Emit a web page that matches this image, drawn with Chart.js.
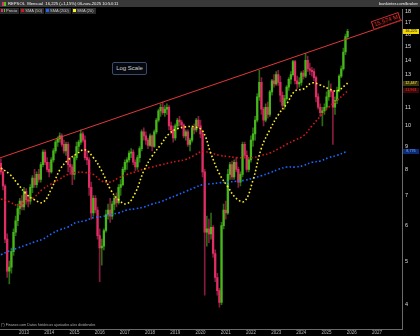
<!DOCTYPE html>
<html lang="es">
<head>
<meta charset="utf-8">
<title>REPSOL Mensual</title>
<script src="https://cdn.jsdelivr.net/npm/chart.js@4.4.1/dist/chart.umd.min.js"></script>
<style>
html, body { margin: 0; padding: 0; background: #000; }
#wrap { position: relative; width: 420px; height: 336px; overflow: hidden; background: #000; font-family: "Liberation Sans", Arial, sans-serif; }
#wrap canvas { position: absolute; left: 0; top: 0; }
.topbar { position: absolute; left: 0; top: 0; width: 420px; height: 7px; background: #383838; color: #f2f2f2; font-size: 4.2px; line-height: 7px; white-space: nowrap; }
.topbar .title { position: absolute; left: 8px; top: 0; }
.topbar .site { position: absolute; right: 2px; top: 0; }
.ico { position: absolute; top: 1.5px; width: 1.5px; height: 4px; }
.legend { position: absolute; left: 0; top: 7.5px; height: 6px; display: flex; gap: 1px; }
.legend .item { background: #2b2b2b; color: #c8c8c8; font-size: 4px; line-height: 6px; padding: 0 2px 0 1px; display: flex; align-items: center; gap: 1px; white-space: nowrap; }
.sw { width: 3px; height: 3px; display: inline-block; }
.logbox { position: absolute; left: 112px; top: 62px; width: 33px; height: 11px; background: #05080f; border: 1px solid #3b4a66; border-radius: 2px; color: #d0d0d0; font-size: 6px; line-height: 11px; text-align: center; }
.footer { position: absolute; left: 1px; top: 323px; color: #b0b0b0; font-size: 3.6px; white-space: nowrap; }
.trendlbl { position: absolute; color: #e23434; border: 1px solid #d32c2c; background: #000; font-size: 6px; line-height: 7px; padding: 0 1px; white-space: nowrap; transform: translate(-50%, -50%) rotate(-18.9deg); }
.tag { position: absolute; left: 403px; width: 16px; height: 5px; font-size: 3.8px; line-height: 5px; text-align: center; }
</style>
</head>
<body>
<div id="wrap">
  <canvas id="repsolChart" width="420" height="336"></canvas>
  <div class="topbar">
    <span class="ico" style="left:2px;background:#e33168"></span>
    <span class="ico" style="left:4px;background:#4fc21c"></span>
    <span class="title">REPSOL &nbsp;Mensual &nbsp;16,225 (+1,15%) 06-nov-2025 10:54:11</span>
    <span class="site">bankinter.com/broker</span>
  </div>
  <div class="legend">
    <span class="item"><span class="sw" style="width:1.5px;background:#e33168"></span><span class="sw" style="width:1.5px;background:#4fc21c"></span>Precio</span>
    <span class="item"><span class="sw" style="background:#d01818"></span>SMA (50)</span>
    <span class="item"><span class="sw" style="background:#1a66ff"></span>SMA (200)</span>
    <span class="item"><span class="sw" style="background:#ffee22"></span>SMA (20)</span>
  </div>
  <div class="logbox">Log Scale</div>
  <div class="footer">(*) Finance.com Datos históricos ajustados a/ex dividendos</div>
  <div class="trendlbl" id="trend-label">15,574 M</div>
  <div class="tag" id="tag-price" style="background:#f2d600;color:#000"></div>
  <div class="tag" id="tag-sma20" style="background:#3a3608;color:#f4e640"></div>
  <div class="tag" id="tag-sma50" style="background:#3c0808;color:#ff3030"></div>
  <div class="tag" id="tag-sma200" style="background:#0b2a78;color:#7fb0ff"></div>
</div>
<script>
// monthly candles, first one is Feb 2012 (months counted from Jan 2012)
const firstMonth = 1;

const opens = [
    8.25, 7.9, 7.35, 5.6, 4.75, 4.85, 5.25, 5.8, 6.15, 6.55,
    6.8, 6.6, 7.15, 6.85, 6.8, 7.3, 7.65, 7.4, 7.8, 7.6,
    8.2, 8.75, 8.3, 8.0, 7.9, 8.4, 8.8, 9.2, 9.35, 9.5,
    9.1, 8.8, 9.1, 8.2, 8.1, 7.8, 8.5, 9.0, 9.2, 9.6,
    9.3, 8.5, 8.4, 7.3, 6.4, 6.9, 6.5, 5.7, 5.35, 5.4,
    5.85, 6.35, 6.5, 6.3, 6.7, 6.9, 6.75, 7.3, 7.4, 8.0,
    8.3, 8.4, 8.7, 8.75, 8.3, 8.1, 8.5, 8.9, 9.7, 9.5,
    9.3, 9.05, 9.5, 9.0, 9.7, 10.3, 10.8, 11.0, 10.7, 10.9,
    11.0, 10.0, 9.8, 9.4, 10.0, 10.3, 10.2, 10.05, 9.5, 9.7,
    9.1, 9.3, 9.9, 9.8, 10.3, 10.0, 9.6, 7.9, 5.8, 5.9,
    5.75, 5.95, 5.2, 4.6, 4.3, 4.05, 6.0, 6.5, 6.4, 7.8,
    8.2, 7.7, 8.3, 8.0, 7.5, 7.8, 9.1, 8.6, 8.0, 8.4,
    9.3, 9.6, 10.3, 11.6, 12.5, 10.9, 10.3, 11.0, 10.6, 11.9,
    12.6, 12.4, 13.0, 12.5, 11.7, 11.1, 11.5, 12.2, 12.7, 13.0,
    13.9, 12.6, 12.4, 12.5, 13.1, 12.9, 14.0, 13.4, 13.3, 13.2,
    12.8, 11.6, 11.0, 10.7, 10.8, 11.0, 11.6, 12.0, 11.9, 11.0,
    11.4, 12.0, 12.9, 13.4, 14.6, 15.8
];
const highs = [
    8.45, 8.0, 7.4, 5.75, 5.0, 5.35, 5.9, 6.3, 6.7, 6.9,
    7.0, 7.3, 7.25, 7.0, 7.4, 7.75, 8.0, 7.9, 8.0, 8.3,
    8.85, 8.85, 8.5, 8.3, 8.5, 8.9, 9.3, 9.45, 9.65, 9.6,
    9.3, 9.2, 9.2, 8.5, 8.2, 8.6, 9.2, 9.3, 9.8, 9.7,
    9.5, 8.8, 8.5, 7.5, 7.0, 7.0, 6.6, 5.9, 5.6, 5.9,
    6.5, 6.7, 6.9, 6.8, 7.0, 7.1, 7.4, 7.6, 8.1, 8.4,
    8.5, 8.8, 8.9, 8.85, 8.4, 8.6, 9.0, 9.8, 9.9, 9.7,
    9.4, 9.6, 9.55, 9.8, 10.4, 10.9, 11.2, 11.3, 11.1, 11.2,
    11.1, 10.2, 10.0, 10.1, 10.4, 10.5, 10.3, 10.1, 9.8, 9.8,
    9.4, 10.0, 10.1, 10.4, 10.5, 10.3, 9.7, 8.0, 6.3, 6.2,
    6.4, 6.0, 5.3, 4.7, 4.35, 6.1, 6.7, 6.8, 8.0, 8.3,
    8.35, 8.4, 8.5, 8.1, 7.9, 9.2, 9.2, 8.8, 8.5, 9.5,
    9.9, 10.5, 11.8, 13.3, 12.8, 11.0, 11.2, 11.3, 12.0, 12.7,
    13.0, 13.2, 13.3, 12.9, 11.9, 11.7, 12.3, 12.8, 13.2, 14.0,
    14.0, 12.9, 12.8, 13.2, 13.3, 14.5, 14.3, 13.8, 13.5, 13.4,
    12.9, 11.8, 11.2, 11.0, 11.2, 11.9, 12.6, 12.4, 12.0, 11.6,
    12.2, 13.0, 13.6, 14.9, 16.0, 16.4
];
const lows = [
    7.8, 7.2, 5.5, 4.6, 4.45, 4.7, 5.15, 5.7, 6.0, 6.35,
    6.5, 6.5, 6.7, 6.6, 6.7, 7.1, 7.3, 7.3, 7.5, 7.5,
    8.1, 8.2, 7.9, 7.7, 7.85, 8.3, 8.7, 9.0, 9.2, 9.0,
    8.7, 8.6, 7.9, 7.8, 7.4, 7.6, 8.4, 8.8, 9.1, 9.2,
    8.4, 8.2, 7.0, 6.2, 6.3, 6.4, 5.6, 4.5, 4.9, 5.3,
    5.8, 6.2, 6.1, 6.2, 6.5, 6.6, 6.7, 7.0, 7.35, 7.9,
    8.0, 8.3, 8.5, 8.2, 7.95, 8.0, 8.3, 8.8, 9.3, 9.1,
    8.9, 9.0, 8.8, 8.95, 9.6, 10.2, 10.5, 10.6, 10.5, 10.6,
    9.8, 9.6, 9.2, 9.3, 9.9, 10.0, 9.9, 9.4, 9.3, 9.0,
    8.8, 9.2, 9.6, 9.7, 9.9, 9.4, 7.7, 4.2, 5.4, 5.5,
    5.6, 5.1, 4.5, 4.2, 3.95, 4.0, 5.9, 6.2, 6.35, 7.6,
    7.6, 7.6, 7.9, 7.3, 7.35, 7.7, 8.5, 7.9, 7.9, 8.3,
    9.0, 9.3, 10.2, 11.4, 10.6, 10.0, 10.2, 10.4, 10.5, 11.7,
    12.2, 12.3, 12.3, 11.3, 10.9, 10.9, 11.4, 12.0, 12.4, 12.9,
    12.4, 12.1, 12.2, 12.3, 12.7, 12.8, 13.2, 13.0, 12.9, 12.6,
    11.3, 10.9, 10.5, 10.0, 10.6, 10.9, 11.4, 11.6, 9.1, 10.6,
    11.2, 11.9, 12.8, 13.3, 14.4, 15.6
];
const closes = [
    7.9, 7.35, 5.6, 4.75, 4.85, 5.25, 5.8, 6.15, 6.55, 6.8,
    6.6, 7.15, 6.85, 6.8, 7.3, 7.65, 7.4, 7.8, 7.6, 8.2,
    8.75, 8.3, 8.0, 7.9, 8.4, 8.8, 9.2, 9.35, 9.5, 9.1,
    8.8, 9.1, 8.2, 8.1, 7.8, 8.5, 9.0, 9.2, 9.6, 9.3,
    8.5, 8.4, 7.3, 6.4, 6.9, 6.5, 5.7, 5.35, 5.4, 5.85,
    6.35, 6.5, 6.3, 6.7, 6.9, 6.75, 7.3, 7.4, 8.0, 8.3,
    8.4, 8.7, 8.75, 8.3, 8.1, 8.5, 8.9, 9.7, 9.5, 9.3,
    9.05, 9.5, 9.0, 9.7, 10.3, 10.8, 11.0, 10.7, 10.9, 11.0,
    10.0, 9.8, 9.4, 10.0, 10.3, 10.2, 10.05, 9.5, 9.7, 9.1,
    9.3, 9.9, 9.8, 10.3, 10.0, 9.6, 7.9, 5.8, 5.9, 5.75,
    5.95, 5.2, 4.6, 4.3, 4.05, 6.0, 6.5, 6.4, 7.8, 8.2,
    7.7, 8.3, 8.0, 7.5, 7.8, 9.1, 8.6, 8.0, 8.4, 9.3,
    9.6, 10.3, 11.6, 12.5, 10.9, 10.3, 11.0, 10.6, 11.9, 12.6,
    12.4, 13.0, 12.5, 11.7, 11.1, 11.5, 12.2, 12.7, 13.0, 13.9,
    12.6, 12.4, 12.5, 13.1, 12.9, 14.0, 13.4, 13.3, 13.2, 12.8,
    11.6, 11.0, 10.7, 10.8, 11.0, 11.6, 12.0, 11.9, 11.0, 11.4,
    12.0, 12.9, 13.4, 14.6, 15.8, 16.225
];

// moving averages every 4 months
const smaMonths = [
    1, 5, 9, 13, 17, 21, 25, 29, 33, 37, 41, 45, 49, 53, 57, 61, 65, 69, 73, 77, 81, 85,
    89, 93, 97, 101, 105, 109, 113, 117, 121, 125, 129, 133, 137, 141, 145, 149, 153, 157, 161, 165, 166
];
const sma20 = [
    8.06, 7.82, 7.43, 7.06, 6.85, 6.76, 7.24, 7.98, 8.4, 8.66, 8.85, 8.5, 7.94, 7.24, 6.85, 6.71, 7.1, 7.94, 8.57, 9.07, 9.6, 9.85,
    9.95, 9.95, 9.75, 8.66, 7.82, 7.32, 6.9, 6.8, 7.58, 8.93, 9.8, 10.58, 11.19, 11.96, 12.08, 12.46, 12.33, 12.1, 11.96, 12.33, 12.447
];
const sma50 = [
    6.88, 6.78, 6.66, 6.8, 6.95, 7.24, 7.43, 7.62, 7.8, 7.88, 7.88, 7.8, 7.54, 7.5, 7.66, 7.8, 7.9, 8.02, 8.1, 8.19, 8.27, 8.35,
    8.42, 8.6, 8.77, 8.7, 8.6, 8.55, 8.5, 8.5, 8.5, 8.6, 8.7, 8.89, 9.1, 9.3, 9.5, 10.0, 10.5, 11.0, 11.4, 11.84, 11.961
];
const sma200 = [
    5.17, 5.27, 5.35, 5.43, 5.52, 5.6, 5.75, 5.87, 5.96, 6.1, 6.15, 6.25, 6.28, 6.35, 6.4, 6.5, 6.54, 6.6, 6.7, 6.78, 6.9, 7.02,
    7.15, 7.28, 7.4, 7.43, 7.47, 7.5, 7.53, 7.57, 7.65, 7.75, 7.86, 8.0, 8.1, 8.1, 8.16, 8.3, 8.35, 8.5, 8.6, 8.75, 8.776
];

// resistance line (two anchor points)
const trendMonths = [0, 192];
const trendValues = [8.47, 17.2];

const yearTicks = [2013, 2014, 2015, 2016, 2017, 2018, 2019, 2020, 2021, 2022, 2023, 2024, 2025, 2026, 2027];
const priceTicks = [4, 5, 6, 7, 8, 9, 10, 11, 12, 13, 14, 15, 16, 17, 18];

const upBody = "#46b81a";
const downBody = "#e02e64";
const upWick = "#2a6a14";
const downWick = "#861b3e";

const monthX = closes.map((c, k) => firstMonth + k);
const rising = closes.map((c, k) => c >= opens[k]);

function lineData(months, values) {
    return months.map((m, k) => ({ x: m, y: values[k] }));
}

function fmt(v) {
    return v.toFixed(3).replace(".", ",");
}

function smaLine(label, values, color) {
    return {
        type: "line",
        label,
        data: lineData(smaMonths, values),
        borderColor: color,
        borderWidth: 1.6,
        borderDash: [1.6, 2.2],
        pointRadius: 0,
        tension: 0.4,
        order: 0,
    };
}

const tagPlugin = {
    id: "tags",
    afterDraw(chart) {
        const y = chart.scales.y;
        const tags = [
            ["tag-price", closes[closes.length - 1]],
            ["tag-sma20", sma20[sma20.length - 1]],
            ["tag-sma50", sma50[sma50.length - 1]],
            ["tag-sma200", sma200[sma200.length - 1]],
        ];
        tags.forEach(([id, value]) => {
            const el = document.getElementById(id);
            el.textContent = fmt(value);
            el.style.top = (y.getPixelForValue(value) - 2.5) + "px";
        });

        // label sitting on the resistance line near the right edge
        const pts = chart.getDatasetMeta(0).data;
        const area = chart.chartArea;
        const lx = area.right - 16;
        const t = (lx - pts[0].x) / (pts[1].x - pts[0].x);
        const ly = pts[0].y + t * (pts[1].y - pts[0].y);
        const label = document.getElementById("trend-label");
        label.style.left = lx + "px";
        label.style.top = (ly - 4.5) + "px";
    },
};

new Chart(document.getElementById("repsolChart"), {
    type: "bar",
    data: {
        datasets: [
            {
                type: "line",
                label: "trend",
                data: lineData(trendMonths, trendValues),
                borderColor: "#e0383a",
                borderWidth: 1,
                pointRadius: 0,
                order: 0,
            },
            smaLine("SMA (20)", sma20, "#ffee22"),
            smaLine("SMA (50)", sma50, "#d01818"),
            smaLine("SMA (200)", sma200, "#1a66ff"),
            {
                label: "body",
                data: monthX.map((x, k) => ({ x, y: [opens[k], closes[k]] })),
                backgroundColor: rising.map((u) => (u ? upBody : downBody)),
                barThickness: 1.6,
                minBarLength: 1,
                grouped: false,
                order: 1,
            },
            {
                label: "wick",
                data: monthX.map((x, k) => ({ x, y: [lows[k], highs[k]] })),
                backgroundColor: rising.map((u) => (u ? upWick : downWick)),
                barThickness: 1,
                grouped: false,
                order: 2,
            },
        ],
    },
    options: {
        responsive: false,
        devicePixelRatio: 1,
        animation: false,
        layout: { padding: { top: 9, left: 0, right: 0, bottom: 0 } },
        plugins: {
            legend: { display: false },
            tooltip: { enabled: false },
        },
        scales: {
            x: {
                type: "linear",
                min: 0.571,
                max: 191.9,
                offset: false,
                afterBuildTicks: (s) => {
                    s.ticks = yearTicks.map((yr) => ({ value: (yr - 2012) * 12 }));
                },
                afterFit: (s) => {
                    s.height = 6;
                },
                ticks: {
                    color: "#b8b8b8",
                    font: { size: 4.5, family: "Liberation Sans" },
                    padding: 0,
                    autoSkip: false,
                    maxRotation: 0,
                    callback: (v) => String(2012 + v / 12),
                },
                grid: { display: false, drawTicks: false },
                border: { display: true, color: "#6a6a6a" },
            },
            y: {
                type: "logarithmic",
                position: "right",
                min: 3.52,
                max: 18.2,
                afterBuildTicks: (s) => {
                    s.ticks = priceTicks.map((v) => ({ value: v }));
                },
                afterFit: (s) => {
                    s.width = 18;
                },
                ticks: {
                    color: "#dcdcdc",
                    font: { size: 5.5, family: "Liberation Sans" },
                    padding: 3,
                    autoSkip: false,
                    callback: (v) => String(v),
                },
                grid: { display: false, drawTicks: false },
                border: { display: true, color: "#6a6a6a" },
            },
        },
    },
    plugins: [tagPlugin],
});
</script>
</body>
</html>
